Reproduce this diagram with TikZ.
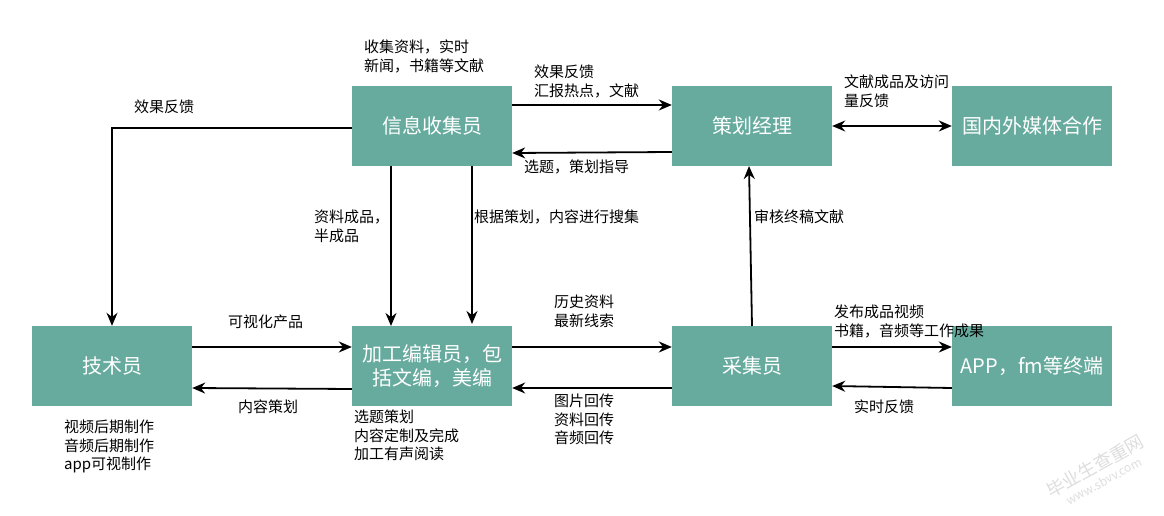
\documentclass[tikz,border=0pt]{standalone}
\usepackage{fontspec}
\setmainfont{Noto Sans CJK SC}
\usetikzlibrary{arrows.meta, positioning, calc}
\tikzset{
  box/.style={fill=boxgreen, text=white, minimum width=160bp, minimum height=80bp, inner sep=1bp, align=center, font=\fontsize{20bp}{24bp}\selectfont},
  lbl/.style={anchor=north west, inner sep=0pt, align=left, font=\fontsize{15bp}{18.5bp}\selectfont},
  conn/.style={-{Stealth[length=13bp,width=11bp]}, line width=1.8bp},
  both/.style={{Stealth[length=13bp,width=11bp]}-{Stealth[length=13bp,width=11bp]}, line width=1.8bp},
  wmark/.style={rotate=29, text=markgrey}
}
\definecolor{boxgreen}{HTML}{67AB9F}
\definecolor{markgrey}{HTML}{DDDDDD}
\begin{document}
\begin{tikzpicture}[x=1bp,y=-1bp]
    \useasboundingbox (0,0) rectangle (1164,516);
    \node[box] (info) at (432,126) {信息收集员};
    \node[box] (plan) at (752,126) {策划经理};
    \node[box] (media) at (1032,126) {国内外媒体合作};
    \node[box] (tech) at (112,366) {技术员};
    \node[box] (edit) at (432,366) {加工编辑员，包\\括文编，美编};
    \node[box] (coll) at (752,366) {采集员};
    \node[box] (app) at (1032,366) {APP，fm等终端};

    % top row
    \draw[conn] ([yshift=21bp]info.east) -- ([yshift=21bp]plan.west);
    \draw[conn] ([yshift=-26bp]plan.west) -- ([yshift=-27bp]info.east);
    \draw[both] (plan) -- (media);
    % left feedback line
    \coordinate (bend) at (112,128);
    \draw[conn] ([yshift=-2bp]info.west) -- (bend) -- (tech.north);
    % down from info
    \draw[conn] (391,166) -- (391,326);
    \draw[conn] (472,166) -- (472,324);
    % bottom row
    \draw[conn] ([yshift=19bp]tech.east) -- ([yshift=19bp]edit.west);
    \draw[conn] ([yshift=-23bp]edit.west) -- ([yshift=-22bp]tech.east);
    \draw[conn] ([yshift=19bp]edit.east) -- ([yshift=19bp]coll.west);
    \draw[conn] ([yshift=-22bp]coll.west) -- ([yshift=-22bp]edit.east);
    \draw[conn] ([yshift=19bp]coll.east) -- ([yshift=19bp]app.west);
    \draw[conn] ([yshift=-22bp]app.west) -- ([yshift=-20bp]coll.east);
    \draw[conn] (752,326) -- (749,166);

    \node[lbl] (t1) at (364,40) {收集资料，实时\\新闻，书籍等文献};
    \node[lbl] (t2) at (534,65) {效果反馈\\汇报热点，文献};
    \node[lbl] (t3) at (524,160) {选题，策划指导};
    \node[lbl] (t4) at (844,75) {文献成品及访问\\量反馈};
    \node[lbl] (t5) at (134,100) {效果反馈};
    \node[lbl] (t6) at (314,210) {资料成品，\\半成品};
    \node[lbl] (t7) at (474,210) {根据策划，内容进行搜集};
    \node[lbl] (t8) at (754,210) {审核终稿文献};
    \node[lbl] (t9) at (228,315) {可视化产品};
    \node[lbl] (t10) at (238,400) {内容策划};
    \node[lbl] (t11) at (554,295) {历史资料\\最新线索};
    \node[lbl] (t12) at (554,394) {图片回传\\资料回传\\音频回传};
    \node[lbl] (t13) at (834,305) {发布成品视频\\书籍，音频等工作成果};
    \node[lbl] (t14) at (854,400) {实时反馈};
    \node[lbl] (t15) at (64,420) {视频后期制作\\音频后期制作\\app可视制作};
    \node[lbl] (t16) at (354,410) {选题策划\\内容定制及完成\\加工有声阅读};
    % watermark
    \node[wmark, font=\fontsize{18bp}{18bp}\selectfont] (mark1) at (1095,466) {毕业生查重网};
    \node[wmark, font=\fontsize{12bp}{12bp}\selectfont] (mark2) at (1104,481) {www.sbvv.com};
\end{tikzpicture}
\end{document}
